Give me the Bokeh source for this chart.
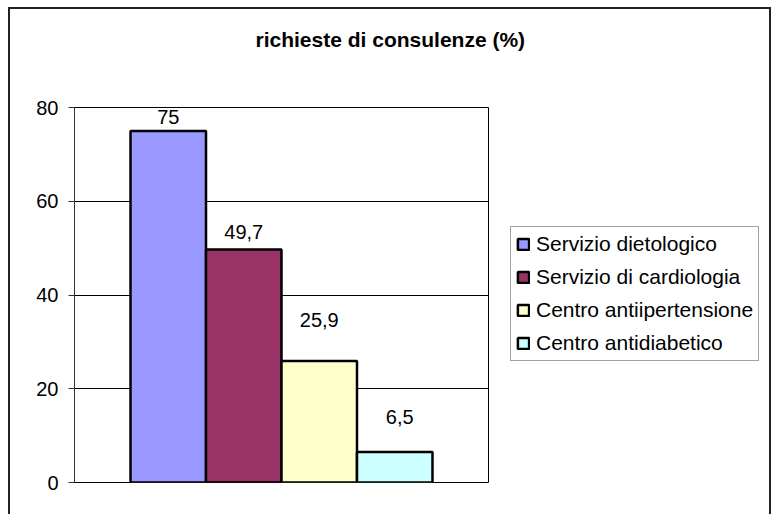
from bokeh.plotting import figure
from bokeh.models import (ColumnDataSource, Range1d, LabelSet, FixedTicker,
                          Legend, LegendItem, InlineStyleSheet, Title)
from bokeh.core.properties import value
from bokeh.embed import file_html
from bokeh.resources import INLINE

# Consultation requests by service (%)
categories = ["Servizio dietologico", "Servizio di cardiologia",
              "Centro antiipertensione", "Centro antidiabetico"]
values = [75, 49.7, 25.9, 6.5]
colors = ["#9999FF", "#993366", "#FFFFCC", "#CCFFFF"]
y_ticks = [0, 20, 40, 60, 80]
title_text = "richieste di consulenze (%)"

# label placement tweaks (screen pixels)
label_dy = [7, 11, 34, 28]
label_dx = [0, 0, 0, 5]

FONT = "Liberation Sans"
W, H = 781, 514
FL, FR, FT, FB = 74, 488, 107, 482      # frame edges in canvas pixels

src = ColumnDataSource(dict(
    x=list(range(len(categories))),
    top=values,
    name=categories,
    color=colors,
    label=[f"{v:g}".replace(".", ",") for v in values],
    dy=label_dy,
    dx=label_dx,
))

p = figure(frame_width=FR - FL, frame_height=FB - FT,
           x_range=Range1d(-1.242, 4.242), y_range=Range1d(0, 80),
           min_border_left=FL, min_border_right=W - FR,
           min_border_top=FT, min_border_bottom=H - FB,
           output_backend="svg", toolbar_location=None)

# outer chart border drawn around the canvas
p.stylesheets = [InlineStyleSheet(css="""
:host { position: relative; }
:host::after {
  content: ""; position: absolute; left: 8px; top: 7px;
  width: 763px; height: 600px; border: 2px solid #222;
  pointer-events: none; box-sizing: border-box;
}
""")]

p.background_fill_color = "white"
p.border_fill_color = "white"
p.outline_line_color = "black"
p.outline_line_width = 1

p.title.text = title_text
p.title.align = "left"
p.title.offset = 181
p.title.standoff = 10
p.title.text_font = FONT
p.title.text_font_size = "21px"
p.title.text_font_style = "bold"
p.title.text_color = "black"

# blank band between the title and the plot area
p.add_layout(Title(text=" ", text_font_size="1px", standoff=49), "above")

p.xaxis.visible = False
p.xgrid.visible = False
p.ygrid.grid_line_color = "black"
p.ygrid.grid_line_width = 1

ax = p.yaxis[0]
ax.ticker = FixedTicker(ticks=y_ticks)
ax.axis_line_color = "#333333"
ax.major_tick_line_color = "#333333"
ax.major_tick_out = 6
ax.major_tick_in = 0
ax.minor_tick_line_color = None
ax.major_label_text_font = FONT
ax.major_label_text_font_size = "20px"
ax.major_label_text_color = "black"
ax.major_label_standoff = 10

bars = p.vbar(x="x", top="top", width=1, source=src, fill_color="color",
              line_color="black", line_width=2.5)

p.add_layout(LabelSet(x="x", y="top", text="label", source=src,
                      x_offset="dx", y_offset="dy",
                      text_align="center", text_baseline="alphabetic",
                      text_font=value(FONT), text_font_size="20px",
                      text_color="black"))

items = [LegendItem(label=name, renderers=[bars], index=i)
         for i, name in enumerate(categories)]
lg = Legend(items=items, location=(22, FB - 361))
lg.margin = 0
lg.padding = 5
lg.spacing = 9
lg.label_height = 21
lg.glyph_height = 14
lg.glyph_width = 14
lg.label_standoff = 6
lg.label_text_font = FONT
lg.label_text_font_size = "21px"
lg.label_text_color = "black"
lg.border_line_color = "#444444"
lg.border_line_width = 1
lg.background_fill_color = "white"
lg.background_fill_alpha = 1
p.add_layout(lg, "right")

open("out.html", "w").write(file_html(p, INLINE))
